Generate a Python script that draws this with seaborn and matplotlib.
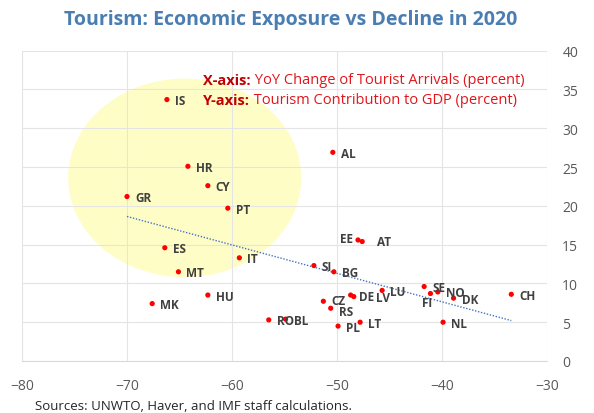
import matplotlib
matplotlib.use("Agg")
import matplotlib.pyplot as plt
from matplotlib.patches import Ellipse
import numpy as np
import pandas as pd
import seaborn as sns


# country codes and values
countries = ["IS", "HR", "CY", "GR", "PT", "ES", "MT", "IT", "HU", "MK",
             "RO", "BL", "AL", "EE", "AT", "SI", "BG", "CZ", "RS", "PL",
             "DE", "LV", "LT", "LU", "SE", "FI", "NO", "DK", "NL", "CH"]
arrivals_change = [-66.2, -64.2, -62.3, -70.0, -60.4, -66.4, -65.1, -59.3, -62.3, -67.6,
                   -56.5, -54.9, -50.4, -48.0, -47.6, -52.2, -50.3, -51.3, -50.6, -49.9,
                   -48.7, -48.4, -47.8, -45.7, -41.7, -41.1, -40.4, -38.9, -39.9, -33.4]
gdp_share = [33.7, 25.1, 22.6, 21.2, 19.7, 14.6, 11.5, 13.3, 8.5, 7.4,
             5.3, 5.4, 26.9, 15.6, 15.4, 12.3, 11.5, 7.7, 6.8, 4.5,
             8.5, 8.3, 5.0, 9.1, 9.6, 8.7, 8.9, 8.1, 5.0, 8.6]

x_ticks = [-80, -70, -60, -50, -40, -30]
y_ticks = [0, 5, 10, 15, 20, 25, 30, 35, 40]

# label nudges (pixels) where the default right-hand label does not fit
label_offsets = {
    "EE": (-5, 1, "right"),
    "AT": (15, 0, "left"),
    "FI": (-3, -9, "center"),
    "LV": (22, -1, "left"),
    "BL": (8, -1, "left"),
    "CZ": (8, 1, "left"),
    "RS": (8, -3, "left"),
}


def main():
    df = pd.DataFrame({"country": countries, "x": arrivals_change, "y": gdp_share})

    sns.set_style("white")
    plt.rcParams["font.family"] = ["Open Sans", "DejaVu Sans"]

    fig = plt.figure(figsize=(5.94, 4.14), dpi=100)
    ax = fig.add_axes([22 / 594, 1 - 362 / 414, (547 - 22) / 594, (362 - 51.7) / 414])

    # highlighted region of tourism-dependent economies
    ax.add_patch(Ellipse((-64.5, 23.6), 22.2, 25.6, facecolor="#FFFDC6",
                         edgecolor="none", zorder=0))

    sns.regplot(data=df, x="x", y="y", ax=ax, scatter=False, ci=None, truncate=True,
                line_kws={"color": "#4472C4", "linestyle": (0, (1, 1.2)), "linewidth": 1})
    sns.scatterplot(data=df, x="x", y="y", ax=ax, color="#FF0000", s=14,
                    edgecolor="none", zorder=3)

    for _, row in df.iterrows():
        dx, dy, ha = label_offsets.get(row["country"], (8, -1, "left"))
        ax.annotate(row["country"], (row["x"], row["y"]), xytext=(dx, dy),
                    textcoords="offset pixels", ha=ha, va="center",
                    fontsize=8.5, fontweight="bold", color="#404040", zorder=4)

    ax.set_xlim(-80, -30)
    ax.set_ylim(0, 40)
    ax.set_xticks(x_ticks)
    ax.set_yticks(y_ticks)
    ax.yaxis.tick_right()
    ax.tick_params(axis="both", length=0, labelsize=10, labelcolor="#595959")
    ax.tick_params(axis="x", pad=12.5)
    ax.tick_params(axis="y", pad=11)
    ax.set_xlabel("")
    ax.set_ylabel("")
    ax.grid(True, color="#E4E4E4", linewidth=0.8)
    ax.set_axisbelow(True)
    for side in ["top", "right", "left"]:
        ax.spines[side].set_visible(False)
    ax.spines["bottom"].set_color("#D9D9D9")
    ax.spines["bottom"].set_linewidth(0.8)

    # axis explanation box
    t1 = ax.text(203 / 594, 1 - 81 / 414, "X-axis:", transform=fig.transFigure,
                 fontsize=10.5, fontweight="bold", color="#C00000", va="center")
    ax.annotate(" YoY Change of Tourist Arrivals (percent)", xy=(1, 0), xycoords=t1,
                va="bottom", fontsize=10.5, color="#E0161C")
    t2 = ax.text(203 / 594, 1 - 101 / 414, "Y-axis:", transform=fig.transFigure,
                 fontsize=10.5, fontweight="bold", color="#C00000", va="center")
    ax.annotate(" Tourism Contribution to GDP (percent)", xy=(1, 0), xycoords=t2,
                va="bottom", fontsize=10.5, color="#E0161C")

    fig.text(291 / 594, 1 - 20 / 414, "Tourism: Economic Exposure vs Decline in 2020",
             ha="center", va="center", fontsize=14, fontweight="bold", color="#4A7EB2")
    fig.text(35 / 594, 1 - 407 / 414, "Sources: UNWTO, Haver, and IMF staff calculations.",
             ha="left", va="center", fontsize=9.5, color="#262626")

    fig.savefig("out.png", dpi=100, facecolor="white")


if __name__ == "__main__":
    main()
